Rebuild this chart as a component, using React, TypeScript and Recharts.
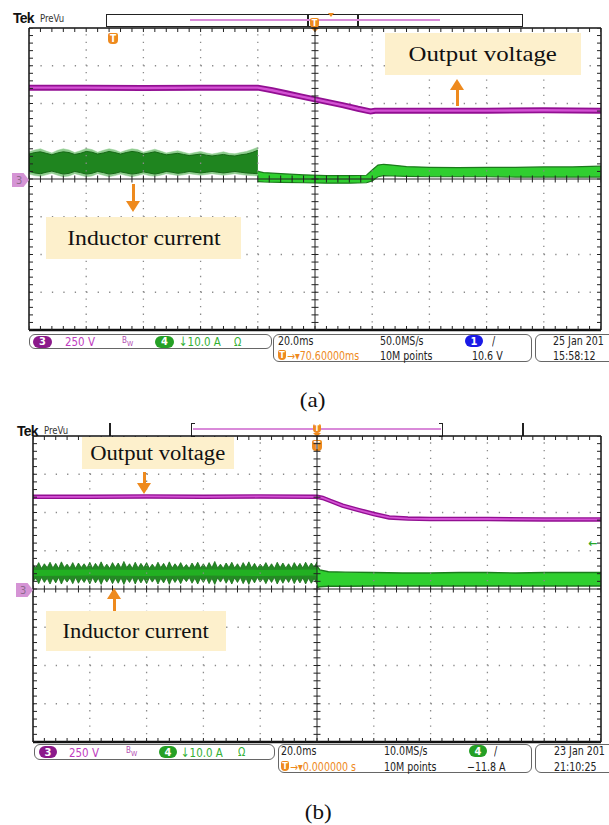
import React from "react";
import { ComposedChart, Line, Area, Scatter, XAxis, YAxis, ReferenceLine } from "recharts";

// all trace values are in graticule divisions: t = 0..10 (20 ms/div), v = -4..4 (0 = ch3 ground)

// ---------- screen (a)
const aVoltT = [0, 1, 2, 3, 4.0, 4.25, 4.5, 4.75, 5.0, 5.25, 5.5, 5.75, 5.97, 6.05, 7, 8, 9, 10];
const aVoltV = [2.42, 2.42, 2.41, 2.42, 2.42, 2.35, 2.27, 2.19, 2.11, 2.03, 1.95, 1.86, 1.79, 1.81, 1.81, 1.81, 1.82, 1.81];

const aPreStep = 0.1; // sample spacing of the switching-ripple part (div)
const aPreHi = [
  0.66, 0.70, 0.72, 0.68, 0.64, 0.69, 0.72, 0.70, 0.65, 0.68,
  0.73, 0.71, 0.66, 0.69, 0.73, 0.70, 0.66, 0.70, 0.73, 0.71,
  0.66, 0.69, 0.72, 0.68, 0.64, 0.66, 0.68, 0.65, 0.62, 0.64,
  0.66, 0.63, 0.61, 0.63, 0.65, 0.62, 0.61, 0.64, 0.66, 0.70,
  0.76,
];
const aPreLo = [
  0.20, 0.16, 0.14, 0.18, 0.21, 0.17, 0.13, 0.15, 0.20, 0.17,
  0.13, 0.15, 0.20, 0.17, 0.13, 0.15, 0.19, 0.16, 0.13, 0.15,
  0.19, 0.16, 0.13, 0.16, 0.20, 0.18, 0.15, 0.17, 0.20, 0.18,
  0.16, 0.18, 0.20, 0.18, 0.16, 0.18, 0.20, 0.18, 0.16, 0.15,
  0.14,
];
const aHaloHi = [
  0.72, 0.77, 0.80, 0.74, 0.69, 0.76, 0.80, 0.77, 0.70, 0.75,
  0.81, 0.78, 0.71, 0.76, 0.80, 0.77, 0.71, 0.76, 0.80, 0.78,
  0.71, 0.75, 0.79, 0.74, 0.69, 0.72, 0.75, 0.71, 0.67, 0.70,
  0.73, 0.69, 0.66, 0.69, 0.72, 0.68, 0.67, 0.70, 0.73, 0.78,
  0.84,
];
const aHaloLo = [
  0.13, 0.09, 0.07, 0.11, 0.15, 0.10, 0.06, 0.08, 0.14, 0.10,
  0.06, 0.08, 0.14, 0.10, 0.06, 0.09, 0.13, 0.09, 0.06, 0.09,
  0.13, 0.09, 0.07, 0.10, 0.14, 0.12, 0.09, 0.11, 0.14, 0.12,
  0.10, 0.12, 0.14, 0.12, 0.10, 0.12, 0.14, 0.12, 0.10, 0.09,
  0.08,
];
const aPostT = [4.0, 4.1, 4.4, 4.8, 5.2, 5.6, 5.9, 6.0, 6.1, 6.2, 6.35, 6.6, 7.0, 7.5, 8.0, 8.5, 9.0, 9.5, 10.0];
const aPostHi = [0.2, 0.17, 0.14, 0.11, 0.09, 0.09, 0.1, 0.24, 0.37, 0.39, 0.37, 0.33, 0.31, 0.3, 0.31, 0.31, 0.32, 0.32, 0.34];
const aPostLo = [-0.07, -0.08, -0.09, -0.1, -0.11, -0.11, -0.1, -0.05, 0.06, 0.09, 0.08, 0.07, 0.06, 0.06, 0.06, 0.05, 0.05, 0.05, 0.05];

// ---------- screen (b)
const bVoltT = [0, 1, 2, 3, 4, 5.0, 5.1, 5.24, 5.45, 5.72, 6.0, 6.27, 6.6, 7.0, 8, 9, 10];
const bVoltV = [2.41, 2.41, 2.42, 2.41, 2.42, 2.41, 2.38, 2.3, 2.18, 2.07, 1.96, 1.87, 1.84, 1.83, 1.83, 1.82, 1.82];

const bPreStep = 0.05;
const bPreHi = [
  0.64, 0.55, 0.69, 0.54, 0.66, 0.56, 0.70, 0.55, 0.67, 0.54,
  0.71, 0.56, 0.65, 0.55, 0.69, 0.54, 0.68, 0.56, 0.66, 0.55,
  0.70, 0.54, 0.67, 0.56, 0.71, 0.55, 0.65, 0.54, 0.69, 0.56,
  0.68, 0.55, 0.72, 0.56, 0.66, 0.54, 0.70, 0.55, 0.67, 0.56,
  0.69, 0.54, 0.65, 0.55, 0.70, 0.56, 0.67, 0.54, 0.71, 0.55,
  0.66, 0.56, 0.69, 0.55, 0.64, 0.54, 0.68, 0.56, 0.70, 0.55,
  0.66, 0.54, 0.69, 0.56, 0.72, 0.55, 0.65, 0.54, 0.68, 0.56,
  0.70, 0.55, 0.66, 0.54, 0.69, 0.56, 0.71, 0.55, 0.67, 0.54,
  0.65, 0.56, 0.69, 0.55, 0.66, 0.54, 0.70, 0.56, 0.68, 0.55,
  0.66, 0.54, 0.69, 0.56, 0.67, 0.55, 0.70, 0.56, 0.68, 0.57,
  0.71,
];
const bPreLo = [
  0.18, 0.29, 0.14, 0.30, 0.17, 0.28, 0.13, 0.29, 0.16, 0.30,
  0.13, 0.28, 0.18, 0.29, 0.14, 0.30, 0.15, 0.28, 0.17, 0.29,
  0.13, 0.30, 0.16, 0.28, 0.12, 0.29, 0.18, 0.30, 0.14, 0.28,
  0.15, 0.29, 0.12, 0.28, 0.17, 0.30, 0.13, 0.29, 0.16, 0.28,
  0.14, 0.30, 0.18, 0.29, 0.13, 0.28, 0.16, 0.30, 0.12, 0.29,
  0.17, 0.28, 0.14, 0.29, 0.19, 0.30, 0.15, 0.28, 0.13, 0.29,
  0.17, 0.30, 0.14, 0.28, 0.12, 0.29, 0.18, 0.30, 0.15, 0.28,
  0.13, 0.29, 0.17, 0.30, 0.14, 0.28, 0.12, 0.29, 0.16, 0.30,
  0.18, 0.28, 0.14, 0.29, 0.17, 0.30, 0.13, 0.28, 0.15, 0.29,
  0.17, 0.30, 0.14, 0.28, 0.16, 0.29, 0.13, 0.28, 0.15, 0.27,
  0.13,
];
const bCoreT = [0, 1, 2, 3, 4, 5];
const bCoreHi = [0.5, 0.51, 0.5, 0.51, 0.5, 0.51];
const bCoreLo = [0.34, 0.35, 0.34, 0.35, 0.34, 0.35];
const bPostT = [5.0, 5.05, 5.2, 5.5, 6.0, 6.5, 7.0, 7.5, 8.0, 8.5, 9.0, 9.5, 10];
const bPostHi = [0.6, 0.5, 0.45, 0.44, 0.43, 0.42, 0.42, 0.43, 0.43, 0.42, 0.43, 0.43, 0.43];
const bPostLo = [0.04, 0.06, 0.07, 0.07, 0.08, 0.08, 0.08, 0.08, 0.08, 0.08, 0.08, 0.08, 0.08];

const SANS_N = '"DejaVu Sans Condensed", "Liberation Sans", sans-serif';
const SERIF = '"Liberation Serif", "DejaVu Serif", serif';
const ORANGE = "#ee8a1e";
const PAD = 6;

type Pt = { t: number; v: number };
type Band = { t: number; band: [number, number] };
type Layer = { data: Band[]; fill: string; stroke: string; sw: number };

const pts = (t: number[], v: number[]): Pt[] => t.map((x, i) => ({ t: x, v: v[i] }));
const band = (t: number[], lo: number[], hi: number[]): Band[] =>
  t.map((x, i) => ({ t: x, band: [lo[i], hi[i]] }));
const evenT = (n: number, step: number) => Array.from({ length: n }, (_, i) => +(i * step).toFixed(3));

const gridX = [1, 2, 3, 4, 6, 7, 8, 9];
const gridY = [-3, -2, -1, 1, 2, 3];
const minorXs = Array.from({ length: 51 }, (_, i) => i / 5);
const minorYs = Array.from({ length: 41 }, (_, i) => -4 + i / 5);

function Scope(p: { left: number; top: number; w: number; h: number; volt: Pt[]; vw: number; layers: Layer[] }) {
  const dotY = p.h / 40;
  const dotX = p.w / 50;
  const tick = (dx1: number, dy1: number, dx2: number, dy2: number) => (s: any) =>
    <line x1={s.cx + dx1} y1={s.cy + dy1} x2={s.cx + dx2} y2={s.cy + dy2} stroke="#222" strokeWidth={1} />;
  return (
    <div style={{ position: "absolute", left: p.left - PAD, top: p.top - PAD }}>
      <ComposedChart width={p.w + 2 * PAD} height={p.h + 2 * PAD} margin={{ top: PAD, right: PAD, bottom: PAD, left: PAD }}>
        <XAxis type="number" dataKey="t" domain={[0, 10]} hide allowDataOverflow />
        <YAxis type="number" dataKey="v" domain={[-4, 4]} hide allowDataOverflow />
        {gridX.map((x) => (
          <ReferenceLine key={"gx" + x} x={x} stroke="#8a8a8a" strokeWidth={1.3} strokeDasharray={`1.3 ${dotY - 1.3}`} />
        ))}
        {gridY.map((y) => (
          <ReferenceLine key={"gy" + y} y={y} stroke="#8a8a8a" strokeWidth={1.3} strokeDasharray={`1.3 ${dotX - 1.3}`} />
        ))}
        {p.layers.map((L, i) => (
          <Area key={"l" + i} data={L.data} dataKey="band" type="linear" fill={L.fill} fillOpacity={1}
            stroke={L.stroke} strokeWidth={L.sw} dot={false} activeDot={false} isAnimationActive={false} />
        ))}
        <Line data={p.volt} dataKey="v" type="linear" stroke="#920f92" strokeWidth={p.vw} dot={false} activeDot={false} isAnimationActive={false} />
        <Line data={p.volt} dataKey="v" type="linear" stroke="#d452d4" strokeWidth={p.vw * 0.4} dot={false} activeDot={false} isAnimationActive={false} />
        <ReferenceLine x={5} stroke="#222" strokeWidth={1} />
        <ReferenceLine y={0} stroke="#222" strokeWidth={1} />
        <Scatter data={minorXs.map((t) => ({ t, v: 0 }))} shape={tick(0, -3.5, 0, 3.5)} isAnimationActive={false} />
        <Scatter data={minorYs.map((v) => ({ t: 5, v }))} shape={tick(-3.5, 0, 3.5, 0)} isAnimationActive={false} />
        <Scatter data={minorXs.map((t) => ({ t, v: 4 }))} shape={tick(0, 0, 0, 4)} isAnimationActive={false} />
        <Scatter data={minorXs.map((t) => ({ t, v: -4 }))} shape={tick(0, -4, 0, 0)} isAnimationActive={false} />
        <Scatter data={minorYs.map((v) => ({ t: 0, v }))} shape={tick(0, 0, 4, 0)} isAnimationActive={false} />
        <Scatter data={minorYs.map((v) => ({ t: 10, v }))} shape={tick(-4, 0, 0, 0)} isAnimationActive={false} />
        <ReferenceLine x={0} stroke="#111" strokeWidth={1.5} />
        <ReferenceLine x={10} stroke="#111" strokeWidth={1.5} />
        <ReferenceLine y={4} stroke="#111" strokeWidth={1.5} />
        <ReferenceLine y={-4} stroke="#111" strokeWidth={2.5} />
      </ComposedChart>
    </div>
  );
}

const abs = (x: number, y: number, extra: React.CSSProperties = {}): React.CSSProperties => ({
  position: "absolute", left: x, top: y, whiteSpace: "nowrap", lineHeight: 1, ...extra,
});

// scope status text: condensed, squeezed horizontally like the Tek screen font
function T({ x, y, c = "#222", s = 12, children }: { x: number; y: number; c?: string; s?: number; children: React.ReactNode }) {
  return (
    <div style={abs(x, y - s / 2, { color: c, fontSize: s, fontFamily: SANS_N, transform: "scaleX(0.88)", transformOrigin: "left center" })}>
      {children}
    </div>
  );
}

function Pill({ x, y, w, bg, label }: { x: number; y: number; w: number; bg: string; label: string }) {
  return (
    <div style={abs(x, y - 6, { width: w, height: 12, borderRadius: 6, background: bg, color: "#fff", fontSize: 11,
      fontFamily: SANS_N, fontWeight: 700, display: "flex", alignItems: "center", justifyContent: "center" })}>{label}</div>
  );
}

function Box({ x, y, w, h }: { x: number; y: number; w: number; h: number }) {
  return <div style={abs(x, y, { width: w, height: h, border: "1.5px solid #666", borderRadius: 6, boxSizing: "border-box" })} />;
}

function TBadge({ x, y, w = 9, h = 10 }: { x: number; y: number; w?: number; h?: number }) {
  return (
    <div style={abs(x, y, { width: w, height: h, background: ORANGE, borderRadius: "2px 2px 4px 4px", color: "#fff",
      fontSize: h - 1, fontWeight: 700, fontFamily: SANS_N, display: "flex", alignItems: "center", justifyContent: "center" })}>T</div>
  );
}

function Note({ x, y, w, h, s, text }: { x: number; y: number; w: number; h: number; s: number; text: string }) {
  return (
    <div style={abs(x, y, { width: w, height: h, background: "#fdf0cc", display: "flex", alignItems: "center", justifyContent: "center" })}>
      <span style={{ fontFamily: SERIF, fontSize: s, color: "#111", transform: "scaleX(1.13)", display: "inline-block" }}>{text}</span>
    </div>
  );
}

function Arrow({ x, tip, tail }: { x: number; tip: number; tail: number }) {
  const up = tip < tail;
  const head = 11;
  return (
    <>
      <div style={abs(x - 1.5, up ? tip + head - 1 : tail, { width: 3, height: Math.abs(tail - tip) - head + 1, background: ORANGE })} />
      <div style={abs(x - 7, up ? tip : tip - head, {
        width: 0, height: 0, borderLeft: "7px solid transparent", borderRight: "7px solid transparent",
        ...(up ? { borderBottom: `${head}px solid ${ORANGE}` } : { borderTop: `${head}px solid ${ORANGE}` }) })} />
    </>
  );
}

function Ch3({ x, y }: { x: number; y: number }) {
  return (
    <div style={abs(x, y, { width: 17, height: 14, background: "#d594d5", clipPath: "polygon(0 0, 68% 0, 100% 50%, 68% 100%, 0 100%)",
      color: "#8d6a8d", fontSize: 11, fontFamily: SANS_N, display: "flex", alignItems: "center", paddingLeft: 4, boxSizing: "border-box" })}>3</div>
  );
}

function BW({ x, y }: { x: number; y: number }) {
  return (
    <div style={abs(x, y - 5, { color: "#b24db2", fontFamily: SANS_N, fontSize: 8 })}>
      B<span style={{ fontSize: 7, position: "relative", top: 3 }}>W</span>
    </div>
  );
}

export default function App() {
  const aLayers: Layer[] = [
    { data: band(evenT(aPreHi.length, aPreStep), aHaloLo, aHaloHi), fill: "#8fcc8f", stroke: "#8fcc8f", sw: 0.5 },
    { data: band(evenT(aPreHi.length, aPreStep), aPreLo, aPreHi), fill: "#1f851f", stroke: "#176817", sw: 1 },
    { data: band(aPostT, aPostLo, aPostHi), fill: "#30cf30", stroke: "#1b7a1b", sw: 1.2 },
  ];
  const bLayers: Layer[] = [
    { data: band(evenT(bPreHi.length, bPreStep), bPreLo, bPreHi), fill: "#248a24", stroke: "#1a6e1a", sw: 0.8 },
    { data: band(bCoreT, bCoreLo, bCoreHi), fill: "#22b022", stroke: "none", sw: 0 },
    { data: band(bPostT, bPostLo, bPostHi), fill: "#2fcf2f", stroke: "#1b7a1b", sw: 1.4 },
  ];

  return (
    <div style={{ position: "absolute", left: 0, top: 0, width: 609, height: 825, background: "#fff", overflow: "hidden", fontFamily: SANS_N }}>
      {/* ================= (a) ================= */}
      <div style={abs(13, 11, { fontFamily: '"Liberation Sans", sans-serif', fontWeight: 700, fontSize: 14, letterSpacing: -0.8, color: "#111" })}>Tek</div>
      <div style={abs(40, 13, { fontSize: 11, color: "#333", transform: "scaleX(0.86)", transformOrigin: "left center" })}>PreVu</div>
      <div style={abs(106, 14, { width: 417, height: 13, border: "1.5px solid #222", boxSizing: "border-box" })} />
      <div style={abs(307, 14, { width: 1.5, height: 13, background: "#222" })} />
      <div style={abs(357, 14, { width: 1.5, height: 13, background: "#222" })} />
      <div style={abs(190, 19, { width: 250, height: 2, background: "#d98ad9" })} />
      <div style={abs(328, 13, { width: 0, height: 0, borderLeft: "3px solid transparent", borderRight: "3px solid transparent", borderTop: `4px solid ${ORANGE}` })} />
      <TBadge x={310} y={18} />
      <div style={abs(311, 28, { width: 0, height: 0, borderLeft: "4px solid transparent", borderRight: "4px solid transparent", borderTop: `4px solid ${ORANGE}` })} />
      <TBadge x={108} y={33} w={10} h={11} />

      <Scope left={29} top={28} w={572} h={302} volt={pts(aVoltT, aVoltV)} vw={6} layers={aLayers} />
      <Ch3 x={12} y={173} />

      <Note x={385} y={33} w={196} h={42} s={22} text="Output voltage" />
      <Arrow x={457} tip={79} tail={106} />
      <Note x={46} y={217} w={195} h={42} s={21} text="Inductor current" />
      <Arrow x={133} tip={212} tail={184} />

      <Box x={29} y={334} w={243} h={15} />
      <Pill x={33} y={341.5} w={19} bg="#8b1a8b" label="3" />
      <T x={65} y={341.5} c="#c03cc0" s={13}>250 V</T>
      <BW x={122} y={341.5} />
      <Pill x={155} y={341.5} w={19} bg="#25a025" label="4" />
      <T x={179} y={341.5} c="#33b033" s={13}>↓10.0 A</T>
      <T x={234} y={341.5} c="#33b033">Ω</T>
      <Box x={273} y={334} w={259} h={28} />
      <T x={278} y={341}>20.0ms</T>
      <T x={380} y={341}>50.0MS/s</T>
      <Pill x={465} y={341} w={18} bg="#1a1ae6" label="1" />
      <T x={492} y={341}>/</T>
      <TBadge x={278} y={350} w={8} h={10} />
      <T x={287} y={355.5} c={ORANGE}>→▾70.60000ms</T>
      <T x={380} y={355.5}>10M points</T>
      <T x={472} y={355.5}>10.6 V</T>
      <Box x={535} y={334} w={80} h={28} />
      <T x={553} y={341}>25 Jan 201</T>
      <T x={553} y={355.5}>15:58:12</T>

      <div style={abs(301, 390, { fontFamily: SERIF, fontSize: 21, color: "#111", transform: "scaleX(1.1)" })}>(a)</div>

      {/* ================= (b) ================= */}
      <div style={abs(17, 424, { fontFamily: '"Liberation Sans", sans-serif', fontWeight: 700, fontSize: 14, letterSpacing: -0.8, color: "#111" })}>Tek</div>
      <div style={abs(44, 425, { fontSize: 11, color: "#333", transform: "scaleX(0.86)", transformOrigin: "left center" })}>PreVu</div>
      <div style={abs(109, 423, { width: 1.5, height: 13, background: "#222" })} />
      <div style={abs(522, 423, { width: 1.5, height: 13, background: "#222" })} />
      <div style={abs(191, 423, { width: 3, height: 12, borderLeft: "1.5px solid #222", borderTop: "1.5px solid #222", borderBottom: "1.5px solid #222" })} />
      <div style={abs(439, 423, { width: 3, height: 12, borderRight: "1.5px solid #222", borderTop: "1.5px solid #222", borderBottom: "1.5px solid #222" })} />
      <div style={abs(193, 427.5, { width: 248, height: 2.5, background: "#d98ad9" })} />
      <TBadge x={313} y={424} w={8} h={9} />
      <div style={abs(313, 433, { width: 0, height: 0, borderLeft: "4px solid transparent", borderRight: "4px solid transparent", borderTop: `4px solid ${ORANGE}` })} />
      <TBadge x={312} y={440} w={10} h={11} />

      <Scope left={33} top={436} w={568} h={306} volt={pts(bVoltT, bVoltV)} vw={4.5} layers={bLayers} />
      <Ch3 x={16} y={583} />
      <div style={abs(588, 538, { color: "#2aa82a", fontSize: 11, fontWeight: 700, fontFamily: '"DejaVu Sans", sans-serif' })}>←</div>

      <Note x={82} y={437} w={152} h={32} s={20} text="Output voltage" />
      <Arrow x={144} tip={494} tail={472} />
      <Note x={46} y={611} w={180} h={40} s={20} text="Inductor current" />
      <Arrow x={114} tip={588} tail={611} />

      <Box x={34} y={744} w={241} h={16} />
      <Pill x={39} y={752} w={18} bg="#8b1a8b" label="3" />
      <T x={69} y={752} c="#c03cc0" s={13}>250 V</T>
      <BW x={126} y={752} />
      <Pill x={159} y={752} w={18} bg="#25a025" label="4" />
      <T x={181} y={752} c="#33b033" s={13}>↓10.0 A</T>
      <T x={238} y={752} c="#33b033">Ω</T>
      <Box x={278} y={744} w={254} h={29} />
      <T x={281} y={751}>20.0ms</T>
      <T x={384} y={751}>10.0MS/s</T>
      <Pill x={469} y={751} w={18} bg="#25a025" label="4" />
      <T x={494} y={751}>/</T>
      <TBadge x={281} y={761} w={8} h={10} />
      <T x={290} y={766.5} c={ORANGE}>→▾0.000000 s</T>
      <T x={384} y={766.5}>10M points</T>
      <T x={467} y={766.5}>−11.8 A</T>
      <Box x={535} y={744} w={80} h={29} />
      <T x={554} y={751}>23 Jan 201</T>
      <T x={554} y={766.5}>21:10:25</T>

      <div style={abs(306, 802, { fontFamily: SERIF, fontSize: 21, color: "#111", transform: "scaleX(1.1)" })}>(b)</div>
    </div>
  );
}
